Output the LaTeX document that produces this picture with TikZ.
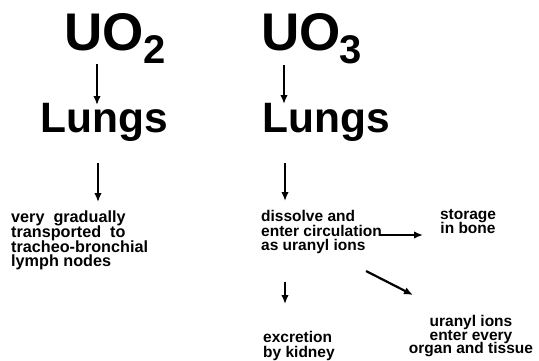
\documentclass[tikz,border=0pt]{standalone}
\usepackage{fontspec}
\setmainfont{Liberation Sans}
\newcommand\notesetup{\fontsize{15.5}{14.6}\selectfont\setlength{\lineskiplimit}{-20pt}\relax\bfseries}
\newcommand\widenotesetup{\fontsize{16.2}{14.6}\selectfont\setlength{\lineskiplimit}{-20pt}\relax\bfseries}
\newcommand\tightnotesetup{\fontsize{15.5}{13.6}\selectfont\setlength{\lineskiplimit}{-20pt}\relax\bfseries}
\usetikzlibrary{arrows.meta}
\begin{document}
\begin{tikzpicture}[x=1pt,y=-1pt,
  big/.style={font=\fontsize{53}{60}\selectfont\bfseries, inner sep=0, anchor=base west},
  subs/.style={font=\fontsize{40}{46}\selectfont\bfseries, inner sep=0, anchor=base west},
  organ/.style={font=\fontsize{42.5}{50}\selectfont\bfseries, inner sep=0, anchor=base west},
  note/.style={font=\notesetup, inner sep=0, align=left, anchor=north west},
  notec/.style={note, align=center, anchor=north},
  arr/.style={line width=1.7pt, -{Latex[length=9pt,width=7.5pt]}}]
\useasboundingbox (0,0) rectangle (539,360);
\fill[white] (0,0) rectangle (539,360);

% left column
\node[big] (uo2) at (64,50) {UO};
\node[subs] (sub2) at (143.5,63) {2};
\node[organ] (lungsL) at (40,132) {Lungs};
\node[note, font=\widenotesetup] (lymph) at (11,211) {very\ \ gradually\\transported\ \ to\\tracheo-bronchial\\lymph nodes};

% right column
\node[big] (uo3) at (261,50) {UO};
\node[subs] (sub3) at (339.5,63) {3};
\node[organ] (lungsR) at (262,132) {Lungs};
\node[note] (dissolve) at (261,210) {dissolve and\\enter circulation\\as uranyl ions};
\node[notec] (bone) at (468,209) {storage\\in bone};
\node[note] (kidney) at (263,331) {excretion\\by kidney};
\node[notec, font=\tightnotesetup] (organs) at (471,315) {uranyl ions\\enter every\\organ and tissue};

% arrow end points
\coordinate (a1s) at (97,64);  \coordinate (a1e) at (97,105);
\coordinate (a2s) at (98,163); \coordinate (a2e) at (98,202);
\coordinate (b1s) at (284,65); \coordinate (b1e) at (284,104);
\coordinate (b2s) at (285,163);\coordinate (b2e) at (285,201);
\coordinate (hs) at (379,235); \coordinate (he) at (423,235);
\coordinate (ds) at (366,271); \coordinate (de) at (413,295);
\coordinate (ks) at (285,282); \coordinate (ke) at (285,304);

\draw[arr] (a1s) -- (a1e);
\draw[arr] (a2s) -- (a2e);
\draw[arr] (b1s) -- (b1e);
\draw[arr] (b2s) -- (b2e);
\draw[arr] (hs) -- (he);
\draw[arr, line width=2.2pt] (ds) -- (de);
\draw[arr] (ks) -- (ke);
\end{tikzpicture}
\end{document}
